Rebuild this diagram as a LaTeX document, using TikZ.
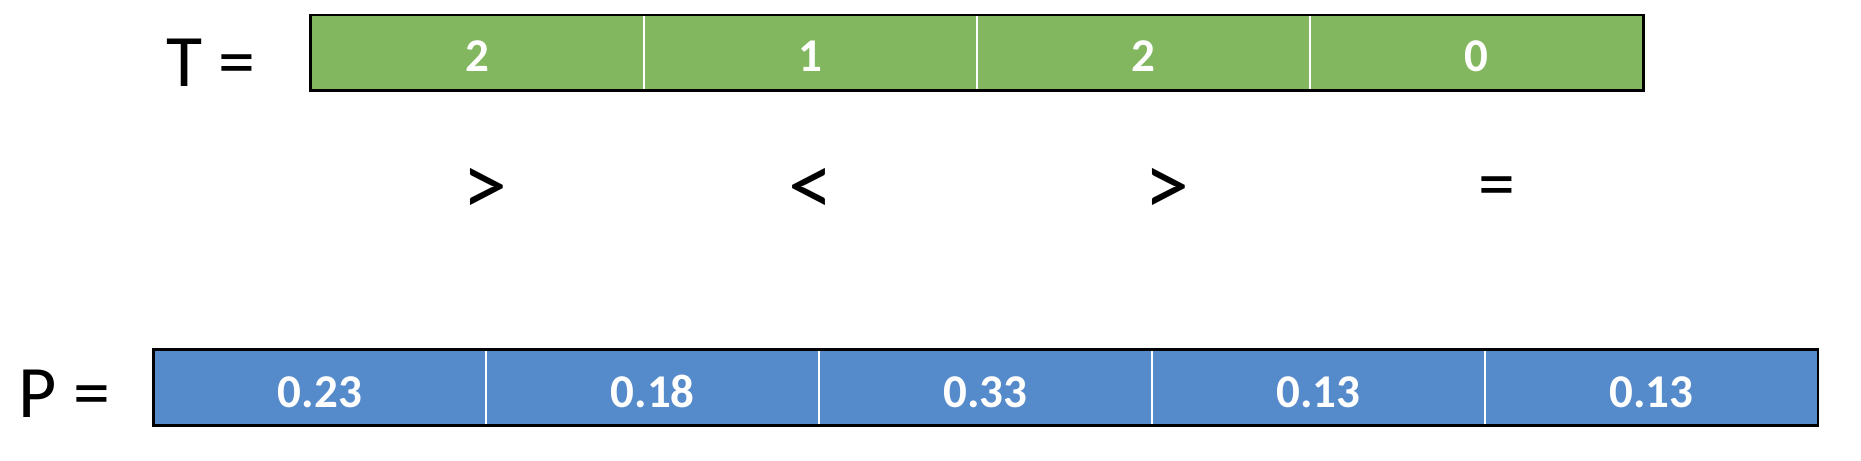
\documentclass[tikz,border=0pt]{standalone}
\usepackage{fontspec}
\setmainfont{Carlito}[BoldFont={* Bold}]
\definecolor{tgreen}{RGB}{130,182,95}
\definecolor{pblue}{RGB}{86,139,203}
\begin{document}
\begin{tikzpicture}[x=1bp,y=-1bp,
  cell/.style={inner sep=0pt, outer sep=0pt, minimum width=333.15bp,
    text height=58bp, text depth=17.7bp, text=white,
    font=\fontsize{47bp}{50bp}\bfseries\selectfont},
  tcell/.style={cell, fill=tgreen, text height=57bp, text depth=18.7bp},
  pcell/.style={cell, fill=pblue, minimum width=332.94bp, text height=57.7bp, text depth=18.3bp},
  divider/.style={white, line width=2bp},
  frame/.style={draw=black, line width=2.6bp},
  big/.style={font=\fontsize{74bp}{76bp}\selectfont, inner sep=0pt},
  sym/.style={font=\fontsize{90bp}{94bp}\selectfont, inner sep=0pt}]
\useasboundingbox (0,0) rectangle (1861,461);
% T row
\node[tcell] (t1) at (477.3,52.7) {2};
\node[tcell] (t2) at (810.4,52.7) {1};
\node[tcell] (t3) at (1143.6,52.7) {2};
\node[tcell] (t4) at (1476.7,52.7) {0};
\foreach \a in {t1,t2,t3} \draw[divider] (\a.north east) -- (\a.south east);
\draw[frame] (t1.north west) rectangle (t4.south east);
% P row
\node[pcell] (p1) at (319.8,387.3) {0.23};
\node[pcell] (p2) at (652.7,387.3) {0.18};
\node[pcell] (p3) at (985.6,387.3) {0.33};
\node[pcell] (p4) at (1318.6,387.3) {0.13};
\node[pcell] (p5) at (1651.5,387.3) {0.13};
\foreach \a in {p1,p2,p3,p4} \draw[divider] (\a.north east) -- (\a.south east);
\draw[frame] (p1.north west) rectangle (p5.south east);
% labels
\node[big, anchor=base] (tl) at (211,87) {T =};
\node[big, anchor=base] (pl) at (64,417) {P =};
% comparisons
\node[sym] (c1) at (485,192) {>};
\node[sym] (c2) at (811,192) {<};
\node[sym] (c3) at (1167,192) {>};
\node[big] (c4) at (1497,193) {=};
\end{tikzpicture}
\end{document}
